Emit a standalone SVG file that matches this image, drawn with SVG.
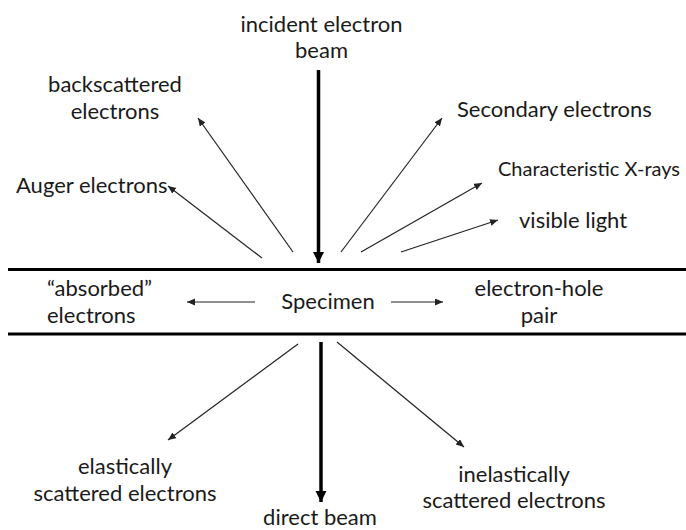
<svg xmlns="http://www.w3.org/2000/svg" width="686" height="530" viewBox="0 0 686 530">
  <style>
    text { font-family: Lato, "Liberation Sans", sans-serif; font-size: 22px; fill: #1a1a1a; }
    .mid { text-anchor: middle; }
    .narrow { font-size: 20px; }
    .thin { stroke: #222; stroke-width: 1.2; fill: none; marker-end: url(#tip); }
    .thick { stroke: #000; stroke-width: 3.5; fill: none; marker-end: url(#bigtip); }
    .slab { stroke: #000; stroke-width: 3; }
  </style>
  <defs>
    <marker id="tip" markerUnits="userSpaceOnUse" markerWidth="9" markerHeight="8" refX="8" refY="3.5" orient="auto">
      <path d="M0,0 L8,3.5 L0,7 z" fill="#222"/>
    </marker>
    <marker id="bigtip" markerUnits="userSpaceOnUse" markerWidth="12" markerHeight="12" refX="11" refY="5.5" orient="auto">
      <path d="M0,0 L11,5.5 L0,11 z" fill="#000"/>
    </marker>
  </defs>

  <!-- specimen slab boundaries -->
  <g id="specimen-slab">
    <line class="slab" x1="8" y1="269.5" x2="686" y2="269.5"/>
    <line class="slab" x1="8" y1="334" x2="686" y2="334"/>
  </g>

  <!-- connectors -->
  <g id="connectors">
    <line class="thick" x1="318.5" y1="70" x2="318.5" y2="263"/>
    <line class="thin" x1="293" y1="252" x2="198" y2="118"/>
    <line class="thin" x1="262" y1="258" x2="168" y2="186"/>
    <line class="thin" x1="341" y1="252" x2="442" y2="118"/>
    <line class="thin" x1="361" y1="252" x2="482" y2="183"/>
    <line class="thin" x1="401" y1="252" x2="498" y2="220"/>
    <line class="thin" x1="255" y1="302" x2="187" y2="302"/>
    <line class="thin" x1="391" y1="302" x2="443" y2="302"/>
    <line class="thin" x1="298" y1="344" x2="168" y2="440"/>
    <line class="thick" x1="321" y1="342" x2="321" y2="502"/>
    <line class="thin" x1="337" y1="342" x2="464" y2="447"/>
  </g>

  <g id="incident-beam">
    <text class="mid" x="321.5" y="32">incident electron</text>
    <text class="mid" x="321.5" y="58">beam</text>
  </g>
  <g id="backscattered">
    <text class="mid" x="115" y="92">backscattered</text>
    <text class="mid" x="115" y="119">electrons</text>
  </g>
  <g id="auger">
    <text x="16" y="193">Auger electrons</text>
  </g>
  <g id="secondary">
    <text x="457" y="117">Secondary electrons</text>
  </g>
  <g id="xrays">
    <text class="narrow" x="498" y="176">Characteristic X-rays</text>
  </g>
  <g id="visible-light">
    <text x="519" y="228">visible light</text>
  </g>
  <g id="absorbed">
    <text x="47" y="296">“absorbed”</text>
    <text x="47" y="323">electrons</text>
  </g>
  <g id="specimen">
    <text class="mid" x="328" y="309">Specimen</text>
  </g>
  <g id="electron-hole">
    <text class="mid" x="539" y="296">electron-hole</text>
    <text class="mid" x="539" y="323">pair</text>
  </g>
  <g id="elastic">
    <text class="mid" x="125" y="474">elastically</text>
    <text class="mid" x="125" y="501">scattered electrons</text>
  </g>
  <g id="direct-beam">
    <text class="mid" x="320" y="525">direct beam</text>
  </g>
  <g id="inelastic">
    <text class="mid" x="514" y="482">inelastically</text>
    <text class="mid" x="514" y="508">scattered electrons</text>
  </g>
</svg>
